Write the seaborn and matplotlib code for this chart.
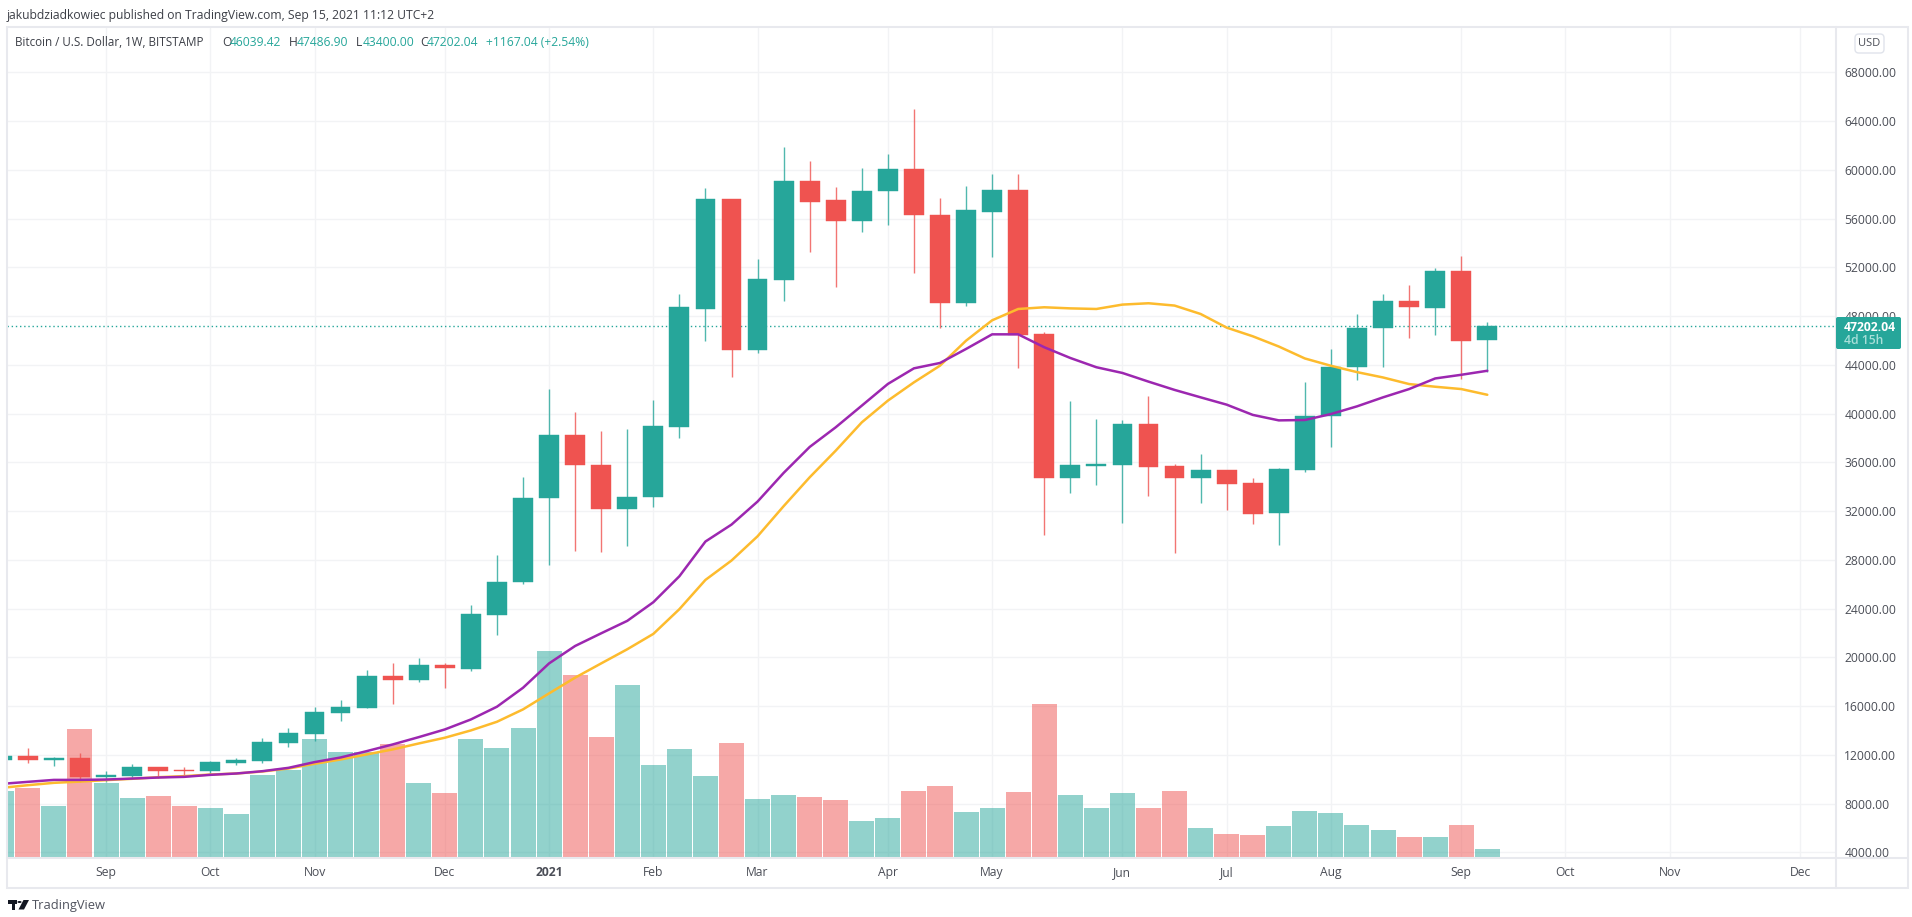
import numpy as np
import pandas as pd
import matplotlib
matplotlib.use("Agg")
import matplotlib.pyplot as plt
from matplotlib.patches import FancyBboxPatch, Rectangle, Circle, Polygon
import seaborn as sns

# ---------- data ----------
weeks = list(range(-4, 54))
opens = [11600, 11917, 11560, 11750, 10190, 10300, 10960, 10790, 10630, 11310,
         11480, 12960, 13720, 15450, 15860, 18440, 18110, 19400, 19070, 23480,
         26200, 33100, 38200, 35800, 32200, 33130, 38870, 48580, 57600, 45240,
         50990, 59050, 57490, 55800, 58230, 60090, 56290, 49100, 56560, 58370,
         46500, 34750, 35700, 35790, 39120, 35680, 34750, 35350, 34310, 31800,
         35400, 39820, 43840, 46980, 49240, 48700, 51730, 46040]
closes = [11890, 11588, 11750, 10190, 10380, 10960, 10710, 10630, 11370, 11560,
          13010, 13780, 15500, 15940, 18440, 18110, 19400, 19150, 23530, 26200,
          33100, 38200, 35800, 32200, 33130, 38960, 48720, 57600, 45240, 51040,
          59050, 57360, 55800, 58290, 60090, 56320, 49100, 56730, 58370, 46450,
          34690, 35760, 35870, 39120, 35620, 34690, 35350, 34250, 31740, 35460,
          39800, 43840, 47030, 49240, 48780, 51730, 45970, 47202]
highs = [11950, 12520, 11830, 12110, 10630, 11230, 10960, 10960, 11480, 11750,
         13400, 14160, 15940, 16460, 18990, 19500, 19920, 19500, 24330, 28400,
         34800, 42000, 40100, 38600, 38700, 41120, 49780, 58480, 57600, 52680,
         61890, 60690, 58560, 60170, 61290, 64980, 57680, 58640, 59650, 59650,
         46670, 41010, 39560, 39480, 41450, 35870, 36710, 35350, 34750, 35510,
         42580, 45310, 48150, 49790, 50550, 51920, 52960, 47487]
lows = [11500, 11340, 11070, 9780, 9780, 10110, 10080, 10240, 10460, 11150,
        11310, 12680, 13120, 14770, 15800, 16140, 18000, 17500, 18880, 21840,
        26000, 27600, 28700, 28600, 29100, 32370, 38030, 45930, 43030, 44970,
        49260, 53230, 50410, 54870, 55470, 51510, 47050, 48850, 52870, 43770,
        30040, 33460, 34170, 31050, 33270, 28570, 32670, 32070, 30970, 29200,
        35210, 37290, 42770, 43860, 46180, 46460, 42850, 43400]
volumes = [67.4, 69.8, 52.2, 128.6, 74.9, 59.7, 61.7, 52.2, 50.2, 43.8,
           83.3, 88.0, 119.1, 106.3, 106.3, 113.7, 74.5, 64.7, 119.1, 110.3,
           129.6, 207.3, 182.6, 121.0, 173.3, 92.7, 109.3, 82.0, 114.7, 59.0,
           63.3, 61.3, 58.0, 37.0, 40.3, 67.3, 71.7, 46.3, 49.7, 66.3,
           154.3, 63.3, 49.7, 65.3, 49.7, 67.3, 29.7, 24.3, 23.3, 31.7,
           47.3, 45.3, 33.0, 27.7, 21.3, 21.3, 33.0, 8.7]
ma_purple = [9615, 9780, 9940, 9940, 9970, 10050, 10135, 10190, 10355, 10465,
             10655, 10930, 11400, 11780, 12300, 12850, 13450, 14080, 14900, 15945,
             17500, 19500, 20930, 21970, 22990, 24520, 26650, 29500, 30890, 32780,
             35130, 37260, 38875, 40650, 42430, 43710, 44150, 45300, 46500, 46500,
             45440, 44560, 43800, 43330, 42620, 41940, 41330, 40730, 39890, 39440,
             39470, 39960, 40590, 41330, 42010, 42880, 43180, 43510]
ma_yellow = [9287, 9505, 9700, 9800, 9920, 10030, 10160, 10250, 10380, 10465,
             10630, 10875, 11260, 11615, 12030, 12440, 12930, 13400, 14000, 14710,
             15725, 17040, 18330, 19500, 20660, 21920, 23950, 26350, 27940, 29930,
             32400, 34770, 36960, 39280, 41060, 42560, 43930, 45980, 47650, 48580,
             48720, 48630, 48580, 48940, 49050, 48860, 48170, 47050, 46340, 45500,
             44520, 43920, 43400, 42960, 42420, 42200, 42010, 41540]
month_pos = [0, 4, 8, 13, 17, 21, 25, 30, 34, 39, 43, 47, 52, 56, 60, 65]
month_labels = ["Sep", "Oct", "Nov", "Dec", "2021", "Feb", "Mar", "Apr", "May",
                "Jun", "Jul", "Aug", "Sep", "Oct", "Nov", "Dec"]
price_ticks = list(range(4000, 68001, 4000))
last_price = 47202.04

# ---------- style ----------
W, H = 1912, 917
UP, DOWN = "#26a69a", "#ef5350"
GRID = "#f2f3f5"
FRAME = "#e8e9ee"
TXT = "#4b4e57"
FONT = "Open Sans"
sns.set_theme(style="white")
plt.rcParams["font.family"] = [FONT, "DejaVu Sans"]

df = pd.DataFrame({"week": weeks, "open": opens, "close": closes, "high": highs, "low": lows,
                   "vol": volumes, "purple": ma_purple, "yellow": ma_yellow})
df["dir"] = np.where(df["close"] >= df["open"], "up", "down")

fig = plt.figure(figsize=(W / 100, H / 100), dpi=100, facecolor="white")
L, R, T, B = 7, 1836, 28, 858
pos = [L / W, 1 - B / H, (R - L) / W, (B - T) / H]

ax = fig.add_axes(pos, zorder=1)
ax_vol = fig.add_axes(pos, sharex=ax, zorder=2)
ax_p = fig.add_axes(pos, sharex=ax, sharey=ax, zorder=3)

# volume
sns.barplot(data=df, x="week", y="vol", hue="dir", palette={"up": UP, "down": DOWN},
            native_scale=True, dodge=False, width=0.96, saturation=1, alpha=0.5,
            linewidth=0, errorbar=None, legend=False, ax=ax_vol)
ax_vol.set_ylim(0, B - T - 0.7)

# wicks and bodies
for d, col in (("up", UP), ("down", DOWN)):
    s = df[df["dir"] == d]
    ax_p.vlines(s["week"], s["low"], s["high"], color=col, lw=1.0, alpha=0.8, zorder=3)
    ax_p.bar(s["week"], (s["close"] - s["open"]).abs(), bottom=s[["open", "close"]].min(axis=1),
             width=0.76, color=col, edgecolor=col, linewidth=0.3, zorder=4)

# moving averages
sns.lineplot(data=df, x="week", y="yellow", color="#fdbb2d", lw=1.8, ax=ax_p, zorder=5, errorbar=None)
sns.lineplot(data=df, x="week", y="purple", color="#9c27b0", lw=1.8, ax=ax_p, zorder=6, errorbar=None)

# last price
ax_p.axhline(last_price, color=UP, lw=1.0, ls=(0, (1, 2)), zorder=2)

# scales
ax.set_xlim(-3.8, 66.38)
ax.set_ylim(3532, 71635)
ax.set_xticks(month_pos)
ax.set_xticklabels(month_labels)
ax.set_yticks(price_ticks)
ax.set_yticklabels([f"{v:.2f}" for v in price_ticks])
ax.yaxis.tick_right()
ax.grid(True, color=GRID, lw=1.0)
ax.set_axisbelow(True)
ax.tick_params(axis="x", length=0, pad=6, labelsize=8.7, labelcolor=TXT)
ax.tick_params(axis="y", length=0, pad=6, labelsize=8.7, labelcolor=TXT)
for lab in ax.get_xticklabels():
    if lab.get_text() == "2021":
        lab.set_fontweight("bold")
for sp in ax.spines.values():
    sp.set_visible(False)
for a in (ax_vol, ax_p):
    a.set_xlabel("")
    a.set_ylabel("")
    a.axis("off")

# pixel helpers
def fx(px): return px / W
def fy(py): return 1 - py / H
def frect(x0, y0, x1, y1, **kw):
    fig.add_artist(Rectangle((fx(x0), fy(y1)), (x1 - x0) / W, (y1 - y0) / H, transform=fig.transFigure, **kw))

# frame
frect(7, 27, 1908, 888, fill=False, edgecolor=FRAME, lw=1.5, zorder=6)
fig.add_artist(plt.Line2D([fx(R), fx(R)], [fy(27), fy(888)], color=FRAME, lw=1.5, zorder=6))
fig.add_artist(plt.Line2D([fx(7), fx(1908)], [fy(858), fy(858)], color=FRAME, lw=1.5, zorder=6))

# price label
fig.add_artist(FancyBboxPatch((fx(R), fy(349)), (1901 - R) / W, 32 / H, transform=fig.transFigure,
                              boxstyle="round,pad=0,rounding_size=0.001", mutation_aspect=W / H,
                              facecolor=UP, edgecolor="none", zorder=7))
fig.text(fx(1844), fy(327.5), "47202.04", color="white", fontsize=8.7, fontweight="bold", va="center", zorder=8)
fig.text(fx(1844), fy(341), "4d 15h", color="#a9dfd9", fontsize=8.7, fontweight="semibold", va="center", zorder=8)

# USD badge
fig.add_artist(FancyBboxPatch((fx(1855), fy(53)), 29 / W, 19 / H, transform=fig.transFigure,
                              boxstyle="round,pad=0,rounding_size=0.002", mutation_aspect=W / H,
                              facecolor="white", edgecolor="#e0e3eb", lw=1.0, zorder=7))
fig.text(fx(1869.5), fy(43.5), "USD", color=TXT, fontsize=8.0, ha="center", va="center", zorder=8)

# header lines
fig.text(fx(7), fy(15), "jakubdziadkowiec published on TradingView.com, Sep 15, 2021 11:12 UTC+2",
         color="#3c3f47", fontsize=8.7, va="center")
fig.text(fx(15), fy(43), "Bitcoin / U.S. Dollar, 1W, BITSTAMP", color="#3c3f47", fontsize=8.35, va="center", zorder=8)
for px, s, col in [(222, "O", "#3c3f47"), (230, "46039.42", UP),
                   (289, "H", "#3c3f47"), (297, "47486.90", UP),
                   (356, "L", "#3c3f47"), (362.5, "43400.00", UP),
                   (420, "C", "#3c3f47"), (427, "47202.04", UP),
                   (486, "+1167.04 (+2.54%)", UP)]:
    fig.text(fx(px), fy(43), s, color=col, fontsize=8.7, va="center", zorder=8)

# footer logo and wordmark
LOGO = "#131722"
frect(7.5, 900, 17, 903.5, facecolor=LOGO, edgecolor="none")
frect(11.5, 900, 15, 909.5, facecolor=LOGO, edgecolor="none")
fig.add_artist(Circle((fx(19.5), fy(902)), 0.0011, transform=fig.transFigure, facecolor=LOGO, edgecolor="none"))
fig.add_artist(Polygon([(fx(23.5), fy(900)), (fx(29), fy(900)), (fx(24), fy(909.5)), (fx(18.5), fy(909.5))],
                       closed=True, transform=fig.transFigure, facecolor=LOGO, edgecolor="none"))
fig.text(fx(32), fy(905.5), "TradingView", color="#50535e", fontsize=9.3, va="center")

fig.savefig("out.png", dpi=100, facecolor="white")
